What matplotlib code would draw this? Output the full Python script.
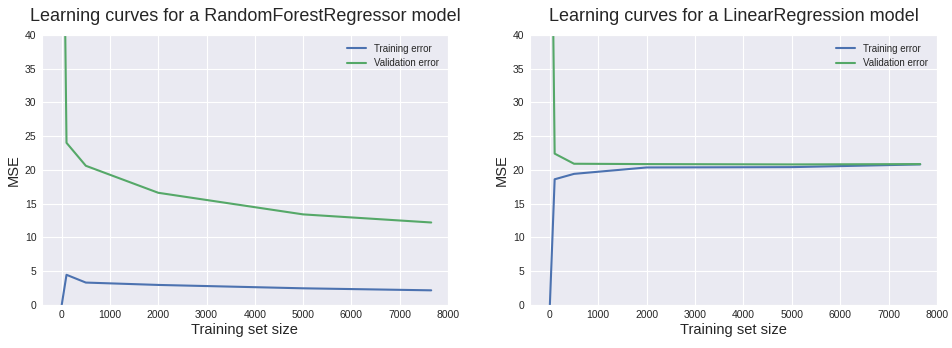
import matplotlib
matplotlib.use("Agg")
import matplotlib.pyplot as plt
import seaborn as sns

sns.set_style("darkgrid")
plt.rcParams['font.family'] = ['Liberation Sans', 'DejaVu Sans']

train_sizes = [1, 100, 500, 2000, 5000, 7654]

rf_train_err = [0.0, 4.45, 3.3, 2.95, 2.45, 2.15]
rf_val_err = [85.0, 24.0, 20.6, 16.6, 13.4, 12.2]

lin_train_err = [0.0, 18.6, 19.4, 20.35, 20.4, 20.8]
lin_val_err = [85.0, 22.4, 20.9, 20.85, 20.8, 20.85]

models = ["RandomForestRegressor", "LinearRegression"]
curves = [(rf_train_err, rf_val_err), (lin_train_err, lin_val_err)]

blue = "#4C72B0"
green = "#55A868"

fig = plt.figure(figsize=(9.52, 3.48), dpi=100)
ax1 = fig.add_axes([0.044, 0.124, 0.4265, 0.776])
ax2 = fig.add_axes([0.5567, 0.124, 0.4275, 0.776])

for ax, name, (tr, va) in zip([ax1, ax2], models, curves):
    ax.plot(train_sizes, tr, color=blue, lw=1.5, label="Training error")
    ax.plot(train_sizes, va, color=green, lw=1.5, label="Validation error")
    ax.set_ylim(0, 40)
    ax.set_xlim(-410, 8000)
    ax.set_xticks(range(0, 8001, 1000))
    ax.set_yticks(range(0, 41, 5))
    ax.tick_params(labelsize=7.5, length=0, pad=4)
    ax.set_xlabel("Training set size", fontsize=10.5, labelpad=2)
    ax.set_ylabel("MSE", fontsize=10.5, labelpad=3)
    ax.set_title(f"Learning curves for a {name} model", fontsize=13, pad=10)
    ax.legend(loc="upper right", fontsize=7, frameon=False)

fig.savefig("out.png", dpi=100)
